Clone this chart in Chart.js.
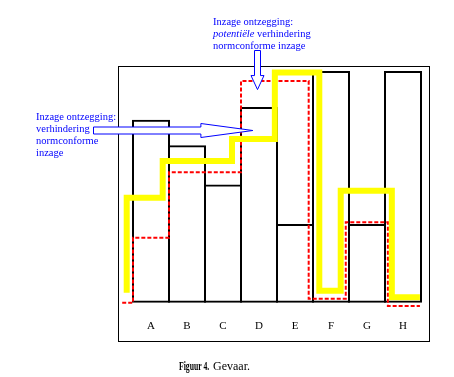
<!DOCTYPE html>
<html>
<head>
<meta charset="utf-8">
<script src="https://cdn.jsdelivr.net/npm/chart.js@4/dist/chart.umd.min.js"></script>
<style>
  html, body { margin: 0; padding: 0; background: #fff; }
  #wrap { position: relative; width: 454px; height: 377px; overflow: hidden; }
  canvas { position: absolute; left: 0; top: 0; }
  .note { position: absolute; font-family: "Liberation Serif", "Times New Roman", serif; font-size: 10.5px; line-height: 12px; color: #0000ff; white-space: nowrap; }
  .cap { position: absolute; font-family: "Liberation Serif", "Times New Roman", serif; line-height: 14px; color: #000; white-space: nowrap; }
</style>
</head>
<body>
<div id="wrap">
  <canvas id="c" width="454" height="377"></canvas>
  <div class="note" id="noteTop" style="left:213px; top:16px;">Inzage ontzegging:<br><i>potentiële</i> verhindering<br>normconforme inzage</div>
  <div class="note" id="noteLeft" style="left:36px; top:111px;">Inzage ontzegging:<br>verhindering<br>normconforme<br>inzage</div>
  <div class="cap" style="left:179px; top:359px; font-size:12px; font-weight:bold; transform:scaleX(0.64); transform-origin:0 50%;">Figuur 4.</div>
  <div class="cap" style="left:213px; top:359px; font-size:12px;">Gevaar.</div>
</div>
<script>
// ---- data ----
const categories = ['A', 'B', 'C', 'D', 'E', 'F', 'G', 'H'];
const barValues  = [79, 68, 51, 84.5, 34, 100, 34, 100];
// red dashed step line (x in category units, 0 = left edge of A)
const redX = [-0.3, 0, 1, 3, 4.88, 5.91, 7.08, 7.97];
const redY = [0, 28, 56.3, 95.7, 1.7, 34.7, -1.4, -1.4];
// thick yellow step line
const yellowX = [-0.175, -0.175, 0.825, 2.75, 3.94, 5.175, 5.77, 7.19, 7.97];
const yellowY = [4.3, 45.3, 61.2, 70.7, 99.4, 5.2, 48.3, 2.3, 2.3];

const barData = categories.map((c, i) => ({ x: i + 0.5, y: barValues[i] }));
const redData = redX.map((x, i) => ({ x: x, y: redY[i] }));
const yellowData = yellowX.map((x, i) => ({ x: x, y: yellowY[i] }));

const decorations = {
  id: 'decorations',
  afterDraw(chart) {
    const ctx = chart.ctx;
    const xs = chart.scales.x, ys = chart.scales.y;
    ctx.save();
    // chart frame
    ctx.strokeStyle = '#000';
    ctx.lineWidth = 1;
    ctx.strokeRect(118.5, 66.5, 311, 275);

    ctx.strokeStyle = '#0000ff';
    ctx.fillStyle = '#fff';
    ctx.lineWidth = 1;
    // top arrow (pointing down into D)
    const tx = Math.round(xs.getPixelForValue(3.45)) + 0.5;
    const ty = ys.getPixelForValue(92);
    ctx.beginPath();
    ctx.moveTo(tx - 3, 50.5);
    ctx.lineTo(tx + 3, 50.5);
    ctx.lineTo(tx + 3, ty - 14);
    ctx.lineTo(tx + 6.5, ty - 14);
    ctx.lineTo(tx, ty);
    ctx.lineTo(tx - 6.5, ty - 14);
    ctx.lineTo(tx - 3, ty - 14);
    ctx.closePath();
    ctx.fill();
    ctx.stroke();
    // left arrow (pointing right into D)
    const lx = xs.getPixelForValue(3.33);
    const ly = Math.round(ys.getPixelForValue(74.5)) + 0.5;
    ctx.beginPath();
    ctx.moveTo(93.5, ly - 3.5);
    ctx.lineTo(lx - 52, ly - 3.5);
    ctx.lineTo(lx - 52, ly - 7);
    ctx.lineTo(lx, ly);
    ctx.lineTo(lx - 52, ly + 7);
    ctx.lineTo(lx - 52, ly + 3.5);
    ctx.lineTo(93.5, ly + 3.5);
    ctx.closePath();
    ctx.fill();
    ctx.stroke();
    ctx.restore();
  }
};

new Chart(document.getElementById('c'), {
  data: {
    datasets: [
      {
        type: 'line', label: 'geel', data: yellowData, order: 0,
        borderColor: '#ffff00', borderWidth: 6, stepped: true,
        borderJoinStyle: 'miter', borderCapStyle: 'butt',
        pointRadius: 0, fill: false, clip: false
      },
      {
        type: 'line', label: 'rood', data: redData, order: 1,
        borderColor: '#ff0000', borderWidth: 2, borderDash: [4, 2], stepped: true,
        borderJoinStyle: 'miter', borderCapStyle: 'butt',
        pointRadius: 0, fill: false, clip: false
      },
      {
        type: 'bar', label: 'zwart', data: barData, order: 2,
        backgroundColor: 'rgba(0,0,0,0)', borderColor: '#000', borderWidth: 2,
        borderSkipped: false, barPercentage: 38 / 36, categoryPercentage: 1, clip: false
      }
    ]
  },
  options: {
    responsive: false,
    animation: false,
    devicePixelRatio: 1,
    layout: { padding: { left: 118.6, right: 25.8, top: 66.4, bottom: 34.3 } },
    plugins: { legend: { display: false }, tooltip: { enabled: false } },
    scales: {
      x: {
        type: 'linear', min: -0.4, max: 8.2, offset: false,
        grid: { display: false, drawTicks: false, offset: false },
        border: { display: false },
        afterBuildTicks: (axis) => { axis.ticks = categories.map((c, i) => ({ value: i + 0.5 })); },
        afterFit: (axis) => { axis.height = 40; },
        ticks: {
          padding: 17, color: '#000', maxRotation: 0, autoSkip: false,
          font: { family: '"Liberation Serif", "Times New Roman", serif', size: 11 },
          callback: (v) => categories[Math.round(v - 0.5)]
        }
      },
      y: { display: false, min: 0, max: 102 }
    }
  },
  plugins: [decorations]
});
</script>
</body>
</html>
